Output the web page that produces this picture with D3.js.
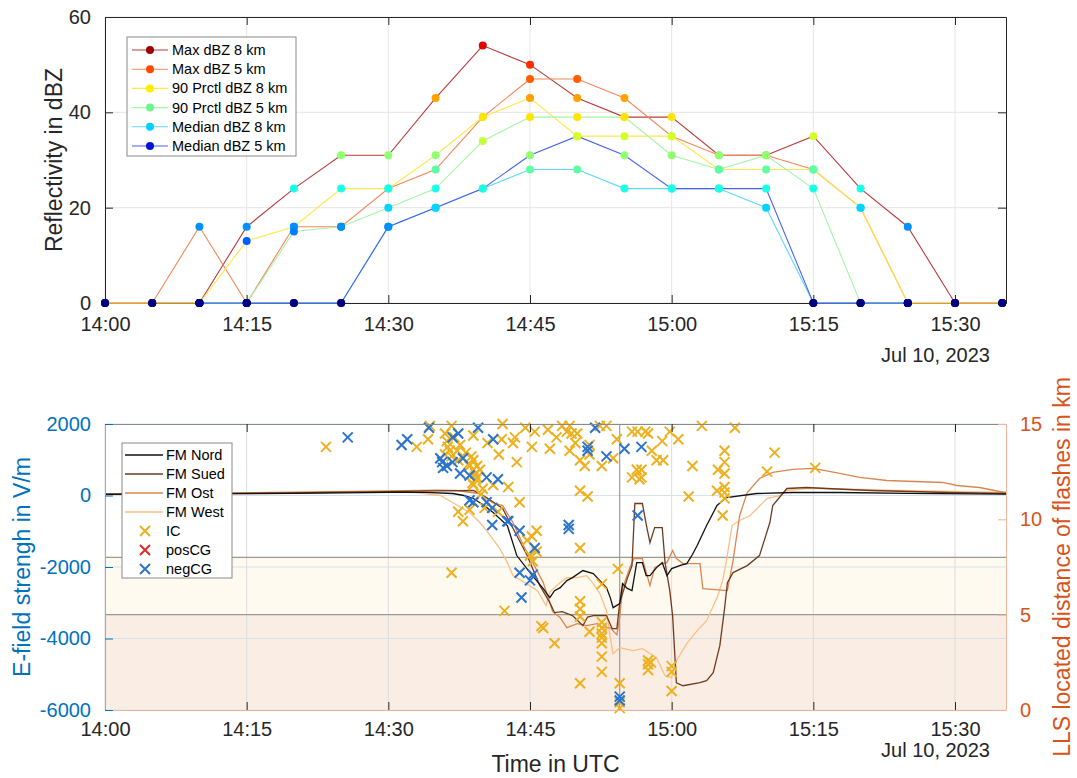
<!DOCTYPE html>
<html>
<head>
<meta charset="utf-8">
<script src="https://cdn.jsdelivr.net/npm/d3@7"></script>
<style>
  body { margin: 0; background: #fff; }
  svg { display: block; font-family: "Liberation Sans", Arial, Helvetica, sans-serif; }
</style>
</head>
<body>
<svg id="chart" width="1077" height="778"></svg>
<script>
// ---------- Radar reflectivity, 5-minute scans (Jul 10, 2023, UTC) ----------
const radarTimes = ["14:00","14:05","14:10","14:15","14:20","14:25","14:30","14:35","14:40","14:45",
                    "14:50","14:55","15:00","15:05","15:10","15:15","15:20","15:25","15:30","15:35"];
const maxDbz8   = [0, 0, 0, 16, 24, 31, 31, 43, 54, 50, 43, 39, 39, 31, 31, 35, 24, 16, 0, 0];
const maxDbz5   = [0, 0, 16, 0, 16, 16, 24, 28, 39, 47, 47, 43, 35, 31, 31, 28, 20, 0, 0, 0];
const prc90Dbz8 = [0, 0, 0, 13, 16, 24, 24, 31, 39, 43, 35, 35, 35, 28, 28, 28, 20, 0, 0, 0];
const prc90Dbz5 = [null, null, 0, 0, 15, 16, 20, 24, 34, 39, 39, 39, 31, 28, 31, 24, 0, 0, null, null];
const medDbz8   = [null, null, 0, 0, 0, 0, 16, 20, 24, 28, 28, 24, 24, 24, 20, 0, 0, 0, null, null];
const medDbz5   = [null, null, 0, 0, 0, 0, 16, 20, 24, 31, 35, 31, 24, 24, 24, 0, 0, 0, null, null];
const radarNames = ["Max dBZ 8 km", "Max dBZ 5 km", "90 Prctl dBZ 8 km", "90 Prctl dBZ 5 km",
                    "Median dBZ 8 km", "Median dBZ 5 km"];
const reflTicks = [0, 20, 40, 60];

// ---------- Field mills: [minutes after 14:00 UTC, E-field in V/m] ----------
const fmNord = [[0,30],[10,45],[20,60],[30,90],[34,90],[36.8,56],[38,0],[39,-84],[40,-250],[41.1,-476],
  [42.6,-840],[43.6,-1680],[45.0,-2157],[46.4,-2605],[47.1,-2857],[47.6,-2661],[48.2,-2577],[48.9,-2381],
  [49.5,-2297],[50.6,-2100],[51.7,-2184],[52.4,-2381],[53.1,-2577],[53.5,-2857],[53.8,-3137],[54.5,-3025],
  [54.8,-2465],[55.3,-2600],[55.8,-2661],[56.3,-1877],[56.9,-1877],[57.3,-2241],[57.7,-2241],[58.4,-2017],
  [59.0,-1877],[59.5,-2241],[60.0,-2045],[61.0,-1950],[61.6,-1905],[62.2,-1650],[62.7,-1400],[63.7,-840],
  [64.8,-280],[65.8,-56],[69.0,56],[72.8,84],[77.8,84],[85,60],[95.4,40]];
const fmSued = [[0,40],[10,55],[20,75],[30,110],[35,130],[39,140],[40.4,-56],[42.1,-364],[43.6,-1120],
  [44.7,-1680],[46.0,-2500],[47.1,-2997],[47.6,-3277],[48.4,-3250],[49.5,-3361],[50.6,-3641],[51.1,-3400],
  [51.7,-3361],[53.1,-3361],[53.7,-3725],[54.2,-3725],[54.5,-2997],[55.3,-2325],[55.8,-1961],[56.1,-224],
  [56.9,-224],[57.3,-800],[57.7,-1317],[58.2,-897],[59.0,-897],[59.3,-1877],[59.8,-2661],[60.1,-3361],
  [60.5,-5237],[61.2,-5321],[63.0,-5237],[63.7,-5181],[64.4,-4957],[65.1,-4201],[65.6,-3165],[65.9,-2437],
  [66.5,-2157],[68.0,-1961],[69.3,-1681],[70.4,-757],[70.7,-280],[72.2,196],[74.3,224],[76.4,196],
  [81,140],[89.4,84],[95.4,56]];
const fmOst = [[0,40],[10,60],[20,95],[30,130],[35,150],[37.2,140],[39.6,56],[41.0,-196],[42.1,-280],
  [43.2,-757],[44.3,-1400],[45.3,-1877],[46.4,-2437],[47.4,-3250],[48.2,-3417],[48.9,-3697],[50.0,-3585],
  [51.0,-3641],[52.1,-3585],[52.7,-3697],[53.5,-3700],[54.2,-3900],[54.5,-3400],[54.8,-2600],[55.6,-2000],
  [56.0,-1765],[56.9,-1765],[57.7,-2521],[58.2,-2017],[59.0,-1905],[59.5,-1877],[60.1,-1540],[60.5,-1765],
  [61.2,-1905],[63.0,-1905],[63.3,-2605],[65.9,-2661],[66.5,-1820],[67.2,-560],[68.0,84],[69.3,476],
  [70.7,644],[72.8,728],[75.0,756],[77.8,616],[79.9,504],[82.8,420],[88.7,364],[90.2,280],[92.6,224],
  [94.7,112],[95.4,84]];
const fmWest = [[0,40],[10,60],[20,80],[30,110],[32.9,84],[35.5,0],[36.8,-196],[38.6,-476],[39.7,-757],
  [40.8,-1120],[41.8,-1484],[42.6,-1877],[43.2,-2241],[43.9,-2350],[45.3,-2577],[45.8,-2661],[46.7,-3081],
  [47.1,-2700],[48.2,-2437],[48.9,-2297],[50.0,-2297],[51.0,-2241],[51.7,-2465],[52.4,-2745],[53.1,-3221],
  [53.5,-3977],[53.8,-4425],[54.5,-4257],[55.9,-4341],[56.9,-4285],[58.4,-4537],[59.3,-5041],[60.0,-5097],
  [60.5,-4621],[61.6,-4145],[62.7,-3781],[63.7,-3501],[64.8,-2857],[65.4,-2381],[65.8,-1820],[66.4,-840],
  [67.2,-700],[68.3,-560],[70.1,-84],[71.5,0],[72.2,140],[74.3,196],[75.7,196],[84.2,140],[95.4,84]];
const fmNames = ["FM Nord", "FM Sued", "FM Ost", "FM West"];

// ---------- LLS flashes: [minutes after 14:00 UTC, distance in km] ----------
const flashIC = [[23.4,13.8],[33.0,13.8],[34.4,14.9],[34.2,14.2],[36.7,14.9],[36.2,14.1],[39.0,14.4],
  [36.5,13.6],[37.3,13.6],[36.0,14.5],[37.0,14.3],[36.3,13.8],[37.6,13.9],[36.7,13.3],[37.4,13.1],[36.0,13.4],
  [39.0,13.1],[39.0,12.6],[39.3,12.1],[39.0,11.8],[38.6,12.8],[37.4,10.4],[38.6,10.5],[37.9,9.9],[42.1,15.0],
  [42.0,14.2],[43.4,14.3],[43.2,14.0],[45.2,13.8],[41.7,13.4],[43.6,13.0],[39.4,12.8],[39.4,12.2],[41.1,11.8],
  [42.7,11.7],[43.9,10.9],[41.6,10.4],[39.7,12.6],[40.0,11.6],[45.7,9.4],[45.2,9.1],[44.7,8.9],[45.7,8.3],
  [45.3,7.8],[45.0,8.1],[50.3,11.5],[51.1,11.2],[50.3,8.5],[47.1,13.7],[47.8,14.3],[48.4,14.9],[49.2,14.9],
  [49.4,14.5],[50.0,14.5],[49.2,13.6],[50.3,13.1],[50.8,12.8],[51.3,13.9],[51.3,13.4],[52.4,14.9],[53.1,14.9],
  [52.6,12.8],[53.8,13.2],[55.8,14.6],[56.4,14.6],[57.2,14.6],[54.2,14.2],[56.3,12.6],[55.8,12.2],[56.6,12.1],
  [46.9,14.7],[48.9,14.6],[49.8,14.0],[57.5,14.5],[59.8,14.6],[59.0,14.1],[60.7,14.2],[57.9,13.6],[58.4,13.1],
  [59.1,13.1],[56.8,12.6],[56.8,12.2],[63.2,14.9],[66.7,14.8],[62.2,12.8],[65.6,13.6],[65.6,13.0],[64.9,12.6],
  [65.6,12.4],[64.8,11.5],[65.6,11.7],[65.6,11.1],[65.4,10.2],[61.8,11.2],[70.9,13.5],[70.1,12.5],[75.2,12.7],
  [65.6,11.4],[36.7,7.2],[42.3,5.2],[46.4,4.3],[46.2,4.4],[47.6,3.5],[50.3,5.7],[50.3,5.3],[50.3,4.9],
  [52.6,6.6],[51.3,4.1],[52.6,4.6],[52.6,4.3],[52.6,4.0],[52.6,3.8],[52.6,3.5],[52.6,2.8],[52.6,2.0],
  [50.3,1.4],[54.3,7.4],[54.5,1.4],[54.5,0.4],[54.5,0.1],[57.5,2.6],[57.5,2.4],[57.5,2.1],[57.8,2.5],
  [60.0,2.3],[60.0,2.0],[60.0,1.0],[40.5,14.0],[44.5,14.8],[45.5,14.6],[38.2,13.5],[38.8,13.3],[38.5,12.9],
  [39.2,12.4],[38.9,11.9],[39.8,11.3],[40.2,10.6]];
const flashPosCG = [];
const flashNegCG = [[25.7,14.3],[31.4,13.9],[32.0,14.2],[34.3,14.8],[36.8,14.3],[37.4,14.5],[39.5,14.8],
  [41.1,14.2],[35.5,13.2],[35.8,12.7],[36.8,13.0],[37.9,13.2],[37.6,12.4],[38.6,12.3],[40.4,12.2],[41.6,12.1],
  [38.6,11.0],[39.0,10.9],[40.4,10.9],[41.0,9.7],[42.7,9.9],[43.9,9.4],[42.6,9.9],[41.0,10.6],[45.5,8.5],
  [43.9,7.2],[45.3,7.1],[45.0,6.8],[44.1,5.9],[51.9,14.8],[51.1,13.8],[51.1,13.6],[53.1,13.3],[55.0,13.7],
  [56.8,13.8],[49.1,9.7],[49.1,9.5],[56.4,10.2],[54.5,0.7],[54.5,0.5],[35.7,13.0],[36.2,12.8]];
const flashNames = ["IC", "posCG", "negCG"];

const efieldTicks = [-6000, -4000, -2000, 0, 2000];
const distTicks = [0, 5, 10, 15];
const distanceBands = [[5, 8], [0, 5]];   // km ranges that are shaded
const eventMinute = 54.5;                 // marked time 14:54:30 UTC
const timeTickMinutes = [0, 15, 30, 45, 60, 75, 90];
const dateLabel = "Jul 10, 2023";

// ---------- helpers ----------
const t0 = Date.UTC(2023, 6, 10, 14, 0, 0);
const atMin = m => new Date(t0 + m * 60000);
const parseHM = s => { const [h, m] = s.split(":").map(Number); return atMin((h - 14) * 60 + m); };
const fmtHM = d3.utcFormat("%H:%M");

function jet(t) {
  t = Math.max(0, Math.min(1, t));
  const c = v => Math.round(255 * Math.max(0, Math.min(1, v)));
  return `rgb(${c(1.5 - Math.abs(4 * t - 3))},${c(1.5 - Math.abs(4 * t - 2))},${c(1.5 - Math.abs(4 * t - 1))})`;
}

const svg = d3.select("#chart");
const FONT_TICK = 20, FONT_LABEL = 23;
const axisGray = "#262626";
const tickFont = "Liberation Sans, Arial, sans-serif";

// shared time axis
const x = d3.scaleUtc().domain([atMin(0), atMin(95.4)]).range([105, 1006]);
const timeTicks = timeTickMinutes.map(atMin);

// ================= Reflectivity panel =================
const boxR = { l: 105, r: 1006, t: 17, b: 303 };
const yR = d3.scaleLinear().domain([0, 60]).range([boxR.b, boxR.t]);
const gTop = svg.append("g");

// grid
gTop.append("g").selectAll("line").data(timeTicks).join("line")
  .attr("x1", d => x(d)).attr("x2", d => x(d)).attr("y1", boxR.t).attr("y2", boxR.b)
  .attr("stroke", "#e6e6e6").attr("stroke-width", 1);
gTop.append("g").selectAll("line").data(reflTicks).join("line")
  .attr("x1", boxR.l).attr("x2", boxR.r).attr("y1", d => yR(d)).attr("y2", d => yR(d))
  .attr("stroke", "#e6e6e6").attr("stroke-width", 1);

// axes
const axB = gTop.append("g").attr("transform", `translate(0,${boxR.b})`)
  .call(d3.axisBottom(x).tickValues(timeTicks).tickFormat(fmtHM).tickSizeInner(-8).tickSizeOuter(0).tickPadding(14));
const axT = gTop.append("g").attr("transform", `translate(0,${boxR.t})`)
  .call(d3.axisTop(x).tickValues(timeTicks).tickFormat("").tickSizeInner(-8).tickSizeOuter(0));
const axL = gTop.append("g").attr("transform", `translate(${boxR.l},0)`)
  .call(d3.axisLeft(yR).tickValues(reflTicks).tickSizeInner(-8).tickSizeOuter(0).tickPadding(14));
const axR = gTop.append("g").attr("transform", `translate(${boxR.r},0)`)
  .call(d3.axisRight(yR).tickValues(reflTicks).tickFormat("").tickSizeInner(-8).tickSizeOuter(0));
[axB, axT, axL, axR].forEach(a => {
  a.select(".domain").attr("stroke", axisGray);
  a.selectAll(".tick line").attr("stroke", axisGray);
  a.selectAll("text").attr("fill", axisGray).attr("font-size", FONT_TICK).attr("font-family", tickFont);
});
gTop.append("text").attr("x", 990).attr("y", 362).attr("text-anchor", "end")
  .attr("font-size", FONT_TICK).attr("fill", axisGray).text(dateLabel);
gTop.append("text").attr("transform", `translate(62,${(boxR.t + boxR.b) / 2}) rotate(-90)`)
  .attr("text-anchor", "middle").attr("font-size", FONT_LABEL).attr("fill", axisGray)
  .text("Reflectivity in dBZ");

// series
const radarSeries = [maxDbz8, maxDbz5, prc90Dbz8, prc90Dbz5, medDbz8, medDbz5];
const radarLineColors = ["#b83c3c", "#f7865a", "#ffe84a", "#a4f5a4", "#5fd8fb", "#4a63ee"];
const radarLegendColors = ["#a00000", "#ff4a00", "#ffee00", "#6cf58c", "#00d0ff", "#0014d6"];
const tDates = radarTimes.map(parseHM);
const lineR = d3.line().defined(d => d.v != null).x(d => x(d.t)).y(d => yR(d.v));
radarSeries.forEach((s, i) => {
  const pts = s.map((v, k) => ({ t: tDates[k], v }));
  gTop.append("path").datum(pts).attr("d", lineR)
    .attr("fill", "none").attr("stroke", radarLineColors[i]).attr("stroke-width", 1.1);
});
radarSeries.forEach(s => {
  const pts = s.map((v, k) => ({ t: tDates[k], v })).filter(d => d.v != null);
  gTop.append("g").selectAll("circle").data(pts).join("circle")
    .attr("cx", d => x(d.t)).attr("cy", d => yR(d.v)).attr("r", 4)
    .attr("fill", d => jet(d.v / 60));
});

// legend
const lgT = gTop.append("g");
lgT.append("rect").attr("x", 127).attr("y", 37).attr("width", 169).attr("height", 119)
  .attr("fill", "#fff").attr("stroke", "#8a8a8a").attr("stroke-width", 1);
radarNames.forEach((n, i) => {
  const yy = 50 + i * 19.2;
  lgT.append("line").attr("x1", 132).attr("x2", 168).attr("y1", yy).attr("y2", yy)
    .attr("stroke", radarLineColors[i]).attr("stroke-width", 1.1);
  lgT.append("circle").attr("cx", 150).attr("cy", yy).attr("r", 4).attr("fill", radarLegendColors[i]);
  lgT.append("text").attr("x", 172).attr("y", yy + 5).attr("font-size", 14.5).attr("fill", "#000").text(n);
});

// ================= E-field / flash panel =================
const boxE = { l: 105, r: 1006, t: 424, b: 710 };
const yE = d3.scaleLinear().domain([-6000, 2000]).range([boxE.b, boxE.t]);
const yD = d3.scaleLinear().domain([0, 15]).range([boxE.b, boxE.t]);
const gBot = svg.append("g");
const blue = "#0072BD", orange = "#D95319";

svg.append("clipPath").attr("id", "clipBot").append("rect")
  .attr("x", boxE.l).attr("y", boxE.t).attr("width", boxE.r - boxE.l).attr("height", boxE.b - boxE.t);

// shaded distance bands
const bandFill = ["#fffaf0", "#faede4"];
gBot.append("g").selectAll("rect").data(distanceBands).join("rect")
  .attr("x", boxE.l).attr("width", boxE.r - boxE.l)
  .attr("y", d => yD(d[1])).attr("height", d => yD(d[0]) - yD(d[1]))
  .attr("fill", (d, i) => bandFill[i]);

// grid
gBot.append("g").selectAll("line").data(timeTicks).join("line")
  .attr("x1", d => x(d)).attr("x2", d => x(d)).attr("y1", boxE.t).attr("y2", boxE.b)
  .attr("stroke", "#dcdcdc").attr("stroke-width", 1);
gBot.append("g").selectAll("line").data(efieldTicks).join("line")
  .attr("x1", boxE.l).attr("x2", boxE.r).attr("y1", d => yE(d)).attr("y2", d => yE(d))
  .attr("stroke", "#d5e2ee").attr("stroke-width", 1);

// band edges
gBot.append("g").selectAll("line").data([8, 5]).join("line")
  .attr("x1", boxE.l).attr("x2", boxE.r).attr("y1", d => yD(d)).attr("y2", d => yD(d))
  .attr("stroke", "#9a9a94").attr("stroke-width", 1.2);

// marked time
gBot.append("line").attr("x1", x(atMin(eventMinute))).attr("x2", x(atMin(eventMinute)))
  .attr("y1", boxE.t).attr("y2", boxE.b).attr("stroke", "#8a8a8a").attr("stroke-width", 1);

// field mill lines
const fmSeries = [fmNord, fmSued, fmOst, fmWest];
const fmColors = ["#111111", "#6e3b1f", "#db8650", "#fcbf86"];
const lineE = d3.line().x(d => x(atMin(d[0]))).y(d => yE(d[1]));
const gLines = gBot.append("g").attr("clip-path", "url(#clipBot)");
[3, 2, 1, 0].forEach(i => {
  gLines.append("path").datum(fmSeries[i]).attr("d", lineE)
    .attr("fill", "none").attr("stroke", fmColors[i]).attr("stroke-width", 1.3);
});

// flash markers
const xMark = s => `M${-s},${-s}L${s},${s}M${-s},${s}L${s},${-s}`;
const flashColors = ["#EDB120", "#e02a2a", "#2a74cc"];
[flashIC, flashPosCG, flashNegCG].forEach((arr, i) => {
  gBot.append("g").selectAll("path").data(arr).join("path")
    .attr("transform", d => `translate(${x(atMin(d[0]))},${yD(d[1])})`)
    .attr("d", xMark(5)).attr("fill", "none")
    .attr("stroke", flashColors[i]).attr("stroke-width", 2);
});

// axes
const bB = gBot.append("g").attr("transform", `translate(0,${boxE.b})`)
  .call(d3.axisBottom(x).tickValues(timeTicks).tickFormat(fmtHM).tickSizeInner(-8).tickSizeOuter(0).tickPadding(12));
const bT = gBot.append("g").attr("transform", `translate(0,${boxE.t})`)
  .call(d3.axisTop(x).tickValues(timeTicks).tickFormat("").tickSizeInner(-8).tickSizeOuter(0));
const bL = gBot.append("g").attr("transform", `translate(${boxE.l},0)`)
  .call(d3.axisLeft(yE).tickValues(efieldTicks).tickFormat(d => String(d)).tickSizeInner(-8).tickSizeOuter(0).tickPadding(14));
const bR = gBot.append("g").attr("transform", `translate(${boxE.r},0)`)
  .call(d3.axisRight(yD).tickValues(distTicks).tickSizeInner(-8).tickSizeOuter(0).tickPadding(14));
bB.select(".domain").attr("stroke", "#f0b49a");
bT.select(".domain").attr("stroke", "#8a8a8a");
[bB, bT].forEach(a => {
  a.selectAll(".tick line").attr("stroke", axisGray);
  a.selectAll("text").attr("fill", axisGray).attr("font-size", FONT_TICK).attr("font-family", tickFont);
});
bL.select(".domain").attr("stroke", "#7fb2dc");
bL.selectAll(".tick line").attr("stroke", blue);
bL.selectAll("text").attr("fill", blue).attr("font-size", FONT_TICK).attr("font-family", tickFont);
bR.select(".domain").attr("stroke", "#f2b49a");
bR.selectAll(".tick line").attr("stroke", "#f2b49a");
bR.selectAll("text").attr("fill", orange).attr("font-size", FONT_TICK).attr("font-family", tickFont);

gBot.append("text").attr("x", 990).attr("y", 757).attr("text-anchor", "end")
  .attr("font-size", FONT_TICK).attr("fill", axisGray).text(dateLabel);
gBot.append("text").attr("x", (boxE.l + boxE.r) / 2).attr("y", 772).attr("text-anchor", "middle")
  .attr("font-size", FONT_LABEL).attr("fill", axisGray).text("Time in UTC");
gBot.append("text").attr("transform", `translate(30,${(boxE.t + boxE.b) / 2}) rotate(-90)`)
  .attr("text-anchor", "middle").attr("font-size", FONT_LABEL).attr("fill", blue)
  .text("E-field strengh in V/m");
gBot.append("text").attr("transform", `translate(1070,${(boxE.t + boxE.b) / 2}) rotate(-90)`)
  .attr("text-anchor", "middle").attr("font-size", FONT_LABEL).attr("fill", orange)
  .text("LLS located distance of flashes in km");

// legend
const lgB = gBot.append("g");
lgB.append("rect").attr("x", 122).attr("y", 443).attr("width", 110).attr("height", 135)
  .attr("fill", "#fff").attr("stroke", "#8a8a8a").attr("stroke-width", 1);
fmNames.forEach((n, i) => {
  const yy = 455 + i * 19;
  lgB.append("line").attr("x1", 125).attr("x2", 163).attr("y1", yy).attr("y2", yy)
    .attr("stroke", fmColors[i]).attr("stroke-width", 1.5);
  lgB.append("text").attr("x", 166).attr("y", yy + 5).attr("font-size", 14.5).attr("fill", "#000").text(n);
});
flashNames.forEach((n, i) => {
  const yy = 455 + (i + 4) * 19;
  lgB.append("path").attr("transform", `translate(145,${yy})`).attr("d", xMark(5))
    .attr("fill", "none").attr("stroke", flashColors[i]).attr("stroke-width", 2);
  lgB.append("text").attr("x", 166).attr("y", yy + 5).attr("font-size", 14.5).attr("fill", "#000").text(n);
});
</script>
</body>
</html>
